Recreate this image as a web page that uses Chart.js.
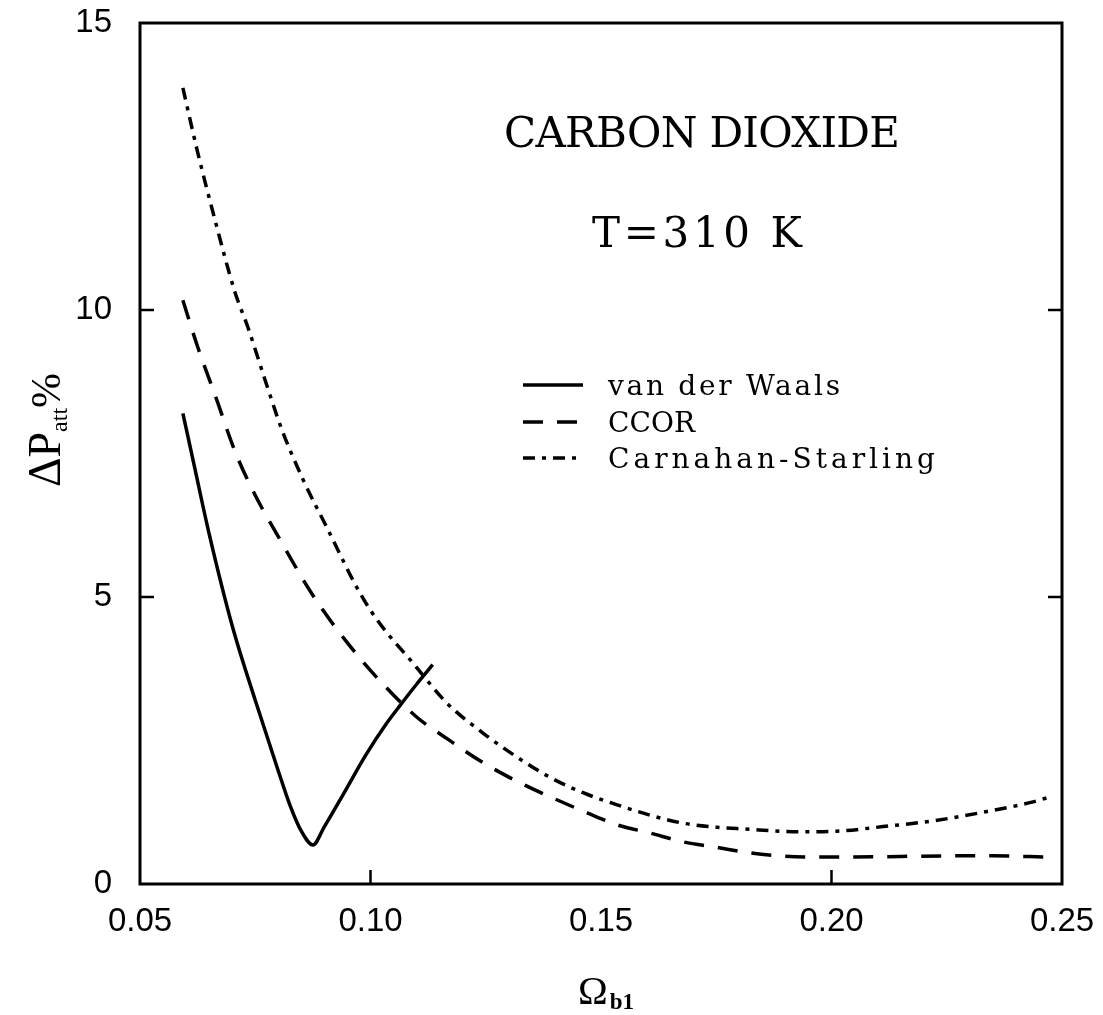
<!DOCTYPE html>
<html><head><meta charset="utf-8">
<script src="https://cdn.jsdelivr.net/npm/chart.js@4/dist/chart.umd.min.js"></script>
<style>html,body{margin:0;padding:0;background:#fff}canvas{display:block}</style>
</head><body>
<canvas id="c" width="1103" height="1015"></canvas>
<script>
// ---- data ----
const vdwX = [0.0593, 0.062, 0.065, 0.070, 0.075, 0.080, 0.0825, 0.085, 0.0875, 0.090, 0.094, 0.099, 0.1035, 0.1065, 0.110, 0.1135];
const vdwY = [8.2, 7.2, 6.1, 4.5, 3.2, 1.97, 1.38, 0.92, 0.68, 1.0, 1.55, 2.25, 2.8, 3.12, 3.48, 3.82];

const ccorX = [0.0593, 0.0625, 0.0665, 0.0705, 0.0745, 0.080, 0.0875, 0.095, 0.1025, 0.110, 0.117, 0.1245, 0.1325, 0.1395, 0.147, 0.1535, 0.1605, 0.168, 0.175, 0.1825, 0.189, 0.197, 0.204, 0.215, 0.225, 0.235, 0.247];
const ccorY = [10.17, 9.36, 8.47, 7.56, 6.85, 6.05, 5.03, 4.20, 3.50, 2.91, 2.51, 2.11, 1.76, 1.50, 1.24, 1.03, 0.89, 0.73, 0.64, 0.54, 0.49, 0.47, 0.47, 0.48, 0.49, 0.49, 0.47];

const csX = [0.0593, 0.0625, 0.066, 0.0706, 0.0734, 0.0775, 0.0808, 0.0854, 0.0906, 0.0977, 0.1019, 0.1092, 0.1166, 0.1244, 0.1318, 0.1389, 0.1461, 0.1535, 0.1606, 0.1678, 0.175, 0.1808, 0.193, 0.201, 0.2112, 0.222, 0.2329, 0.2437, 0.2467];
const csY = [13.87, 12.75, 11.65, 10.31, 9.70, 8.69, 7.91, 7.04, 6.2, 5.07, 4.55, 3.85, 3.15, 2.63, 2.21, 1.86, 1.59, 1.38, 1.20, 1.06, 0.99, 0.96, 0.91, 0.92, 1.0, 1.1, 1.25, 1.43, 1.50];

const seriesNames = ['van der Waals', 'CCOR', 'Carnahan-Starling'];
const xTickValues = [0.05, 0.10, 0.15, 0.20, 0.25];
const yTickValues = [0, 5, 10, 15];
const xInnerTicks = [0.10, 0.20];
const yInnerTicks = [5, 10];
const titleLines = ['CARBON DIOXIDE', 'T=310 K'];

function pts(xs, ys) { return xs.map((x, i) => ({ x: x, y: ys[i] })); }

const SERIF = '"Liberation Serif", "DejaVu Serif", serif';
const SERIF2 = '"DejaVu Serif", "Liberation Serif", serif';

function fitText(ctx, text, x0, baseY, targetW, font) {
  ctx.save();
  ctx.font = font;
  ctx.letterSpacing = '0px';
  const w = ctx.measureText(text).width;
  const n = text.length;
  const ls = n > 1 ? (targetW - w) / (n - 1) : 0;
  ctx.letterSpacing = ls + 'px';
  ctx.textAlign = 'left';
  ctx.textBaseline = 'alphabetic';
  ctx.fillStyle = '#000';
  ctx.fillText(text, x0, baseY);
  ctx.restore();
}

const decor = {
  id: 'decor',
  afterDraw(chart) {
    const ctx = chart.ctx;
    const a = chart.chartArea;
    const xs = chart.scales.x, ys = chart.scales.y;
    ctx.save();
    // frame
    ctx.strokeStyle = '#000';
    ctx.lineWidth = 3;
    ctx.strokeRect(a.left, a.top, a.right - a.left, a.bottom - a.top);
    // inward ticks
    ctx.lineWidth = 2.5;
    ctx.beginPath();
    yInnerTicks.forEach(v => {
      const py = ys.getPixelForValue(v);
      ctx.moveTo(a.left, py); ctx.lineTo(a.left + 14, py);
      ctx.moveTo(a.right, py); ctx.lineTo(a.right - 14, py);
    });
    xInnerTicks.forEach(v => {
      const px = xs.getPixelForValue(v);
      ctx.moveTo(px, a.bottom); ctx.lineTo(px, a.bottom - 14);
    });
    ctx.stroke();

    // titles inside plot
    fitText(ctx, titleLines[0], 504, 147, 396, '42px ' + SERIF2);
    fitText(ctx, titleLines[1], 592, 247, 210, '42px ' + SERIF2);

    // legend
    const rows = [395, 432, 468];
    const widths = [232, 87, 327];
    chart.data.datasets.forEach((ds, i) => {
      const ly = rows[i] - 10;
      ctx.save();
      ctx.strokeStyle = '#000';
      ctx.lineWidth = 3.5;
      ctx.setLineDash(ds.borderDash || []);
      ctx.beginPath();
      ctx.moveTo(523, ly); ctx.lineTo(583, ly);
      ctx.stroke();
      ctx.restore();
      fitText(ctx, ds.label, 608, rows[i], widths[i], '28px ' + SERIF2);
    });

    // y axis title: ΔP_att%
    ctx.save();
    ctx.fillStyle = '#000';
    ctx.translate(60, 430);
    ctx.rotate(-Math.PI / 2);
    ctx.textBaseline = 'alphabetic';
    ctx.textAlign = 'left';
    const parts = [
      { t: '\u0394P', f: '46px ' + SERIF, dy: 0 },
      { t: 'att', f: '24px ' + SERIF, dy: 7 },
      { t: '%', f: '42px ' + SERIF, dy: 0 }
    ];
    let total = 0;
    parts.forEach(p => { ctx.font = p.f; p.w = ctx.measureText(p.t).width; total += p.w; });
    let cx = -total / 2;
    parts.forEach(p => { ctx.font = p.f; ctx.fillText(p.t, cx, p.dy); cx += p.w; });
    ctx.restore();

    // x axis title: Ω_b1
    ctx.save();
    ctx.fillStyle = '#000';
    ctx.textBaseline = 'alphabetic';
    ctx.textAlign = 'left';
    ctx.font = '40px ' + SERIF;
    ctx.fillText('\u03A9', 578, 1004);
    const ow = ctx.measureText('\u03A9').width;
    ctx.font = 'bold 23px ' + SERIF;
    ctx.fillText('b1', 578 + ow + 2, 1009);
    ctx.restore();

    ctx.restore();
  }
};

const tickFont = { family: '"Liberation Sans", Arial, sans-serif', size: 33 };

new Chart(document.getElementById('c'), {
  type: 'line',
  data: {
    datasets: [
      { label: seriesNames[0], data: pts(vdwX, vdwY), borderDash: [] },
      { label: seriesNames[1], data: pts(ccorX, ccorY), borderDash: [20, 14] },
      { label: seriesNames[2], data: pts(csX, csY), borderDash: [12, 7, 4, 7] }
    ].map(d => Object.assign({
      borderColor: '#000', borderWidth: 3.5, pointRadius: 0, fill: false,
      tension: 0.4, cubicInterpolationMode: 'monotone', borderCapStyle: 'butt'
    }, d))
  },
  options: {
    responsive: false,
    animation: false,
    layout: { padding: { left: 0, top: 23, right: 41, bottom: 0 } },
    plugins: { legend: { display: false }, tooltip: { enabled: false } },
    scales: {
      x: {
        type: 'linear', min: 0.05, max: 0.25,
        afterBuildTicks: s => { s.ticks = xTickValues.map(v => ({ value: v })); },
        afterFit: s => { s.height = 131; s.paddingLeft = 0; s.paddingRight = 0; },
        ticks: { callback: v => Number(v).toFixed(2), font: tickFont, color: '#000', padding: 10, maxRotation: 0, autoSkip: false },
        grid: { display: false }, border: { display: false }
      },
      y: {
        type: 'linear', min: 0, max: 15,
        afterBuildTicks: s => { s.ticks = yTickValues.map(v => ({ value: v })); },
        afterFit: s => { s.width = 140; s.paddingTop = 0; s.paddingBottom = 0; },
        ticks: { callback: v => String(v), font: tickFont, color: '#000', padding: 20, autoSkip: false },
        grid: { display: false }, border: { display: false }
      }
    }
  },
  plugins: [decor]
});
</script>
</body></html>
